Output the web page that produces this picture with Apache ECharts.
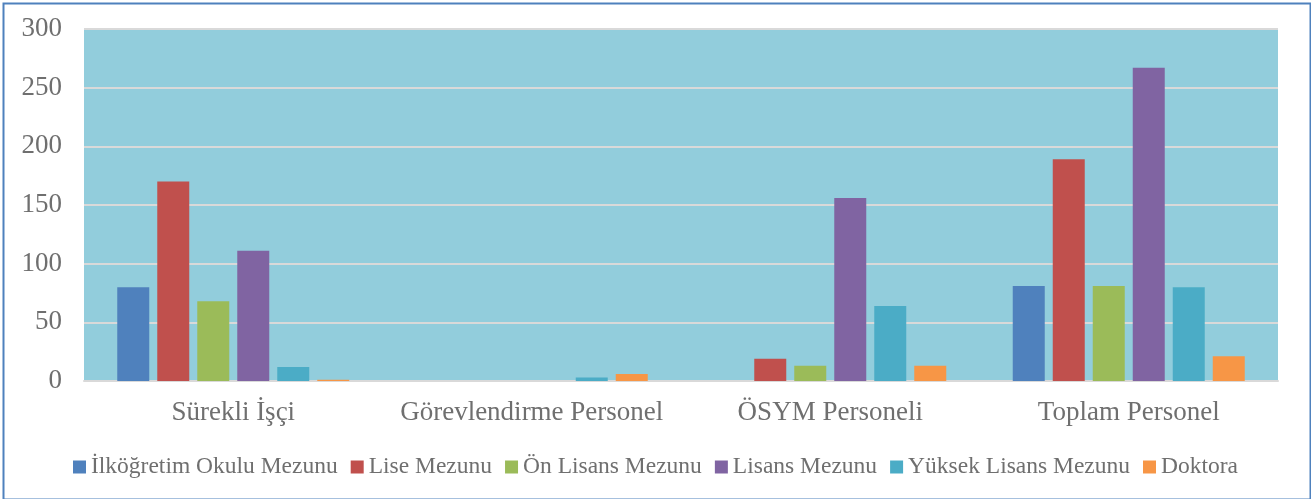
<!DOCTYPE html>
<html><head><meta charset="utf-8">
<script src="https://cdn.jsdelivr.net/npm/echarts@6/dist/echarts.min.js"></script>
<style>html,body{margin:0;padding:0;background:#fff}#c{width:1311px;height:499px}</style>
</head><body><div id="c"></div>
<script>
const categories = ['Sürekli İşçi', 'Görevlendirme Personel', 'ÖSYM Personeli', 'Toplam Personel'];
const seriesNames = ['İlköğretim Okulu Mezunu', 'Lise Mezunu', 'Ön Lisans Mezunu', 'Lisans Mezunu', 'Yüksek Lisans Mezunu', 'Doktora'];
const ilkogretim = [80, 0, 0, 81];
const lise = [170, 0, 19, 189];
const onLisans = [68, 0, 13, 81];
const lisans = [111, 0, 156, 267];
const yuksekLisans = [12, 3, 64, 80];
const doktora = [1, 6, 13, 21];
const yTicks = [0, 50, 100, 150, 200, 250, 300];
const colors = ['#4F81BD', '#C0504D', '#9BBB59', '#8064A2', '#4BACC6', '#F79646'];
const values = [ilkogretim, lise, onLisans, lisans, yuksekLisans, doktora];
const font = '"Liberation Serif", "Times New Roman", serif';

const chart = echarts.init(document.getElementById('c'));
chart.setOption({
  animation: false,
  color: colors,
  graphic: [{type: 'rect', left: 1, top: 1, shape: {width: 1307, height: 496}, style: {fill: 'none', stroke: '#4F81BD', lineWidth: 2}, silent: true}],
  grid: {left: 84, right: 33, top: 29, bottom: 118, show: true, backgroundColor: '#92CDDC', borderWidth: 0},
  legend: {
    data: seriesNames, bottom: 15, left: 'center', icon: 'rect', itemWidth: 13, itemHeight: 13, itemGap: 13,
    textStyle: {fontFamily: font, fontSize: 23.5, color: '#6f6f6f'}
  },
  xAxis: {
    type: 'category', data: categories,
    axisLine: {lineStyle: {color: '#d9d9d9', width: 2}}, axisTick: {show: false},
    axisLabel: {interval: 0, fontFamily: font, fontSize: 27, color: '#6f6f6f', margin: 18}
  },
  yAxis: {
    type: 'value', min: yTicks[0], max: yTicks[yTicks.length - 1], interval: 50,
    axisLine: {show: false}, axisTick: {show: false},
    splitLine: {lineStyle: {color: '#d9d9d9', width: 2}},
    axisLabel: {fontFamily: font, fontSize: 27, color: '#6f6f6f', margin: 22}
  },
  series: seriesNames.map((n, i) => ({
    name: n, type: 'bar', data: values[i], barWidth: 32, barGap: '25%',
    itemStyle: {color: colors[i]}
  }))
});
</script></body></html>
